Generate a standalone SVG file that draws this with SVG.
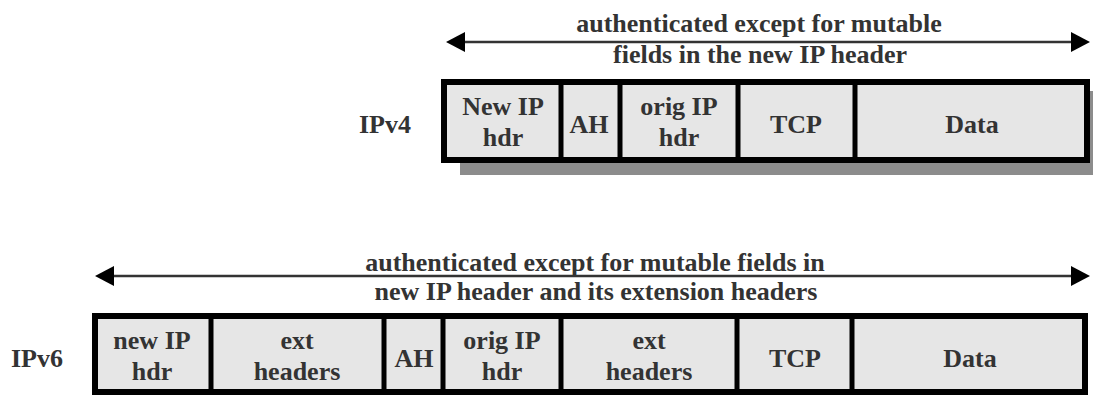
<svg xmlns="http://www.w3.org/2000/svg" width="1093" height="398" viewBox="0 0 1093 398">
<style>
text{font-family:'Liberation Serif','DejaVu Serif',serif;font-weight:700;font-size:26px;fill:#333;text-anchor:middle}
.lbl{text-anchor:end}
.cell{fill:#e6e6e6;stroke:none}
.frame{fill:none;stroke:#000;stroke-width:6}
.div{stroke:#000;stroke-width:5}
.arr{stroke:#333;stroke-width:2.5;fill:none}
.head{fill:#000}
</style>
<rect x="460" y="91" width="640" height="84" fill="#8c8c8c"/>
<g id="ipv4" font-family="Liberation Serif, DejaVu Serif, serif">
<text class="lbl" x="411" y="133">IPv4</text>
<rect class="cell" x="444" y="82" width="643" height="78"/>
<rect class="frame" x="444" y="82" width="643" height="78"/>
<line class="div" x1="561" y1="82" x2="561" y2="160"/>
<line class="div" x1="620" y1="82" x2="620" y2="160"/>
<line class="div" x1="738" y1="82" x2="738" y2="160"/>
<line class="div" x1="855" y1="82" x2="855" y2="160"/>
<text x="503" y="115">New IP</text><text x="503" y="146">hdr</text>
<text x="589" y="133">AH</text>
<text x="679" y="115">orig IP</text><text x="679" y="146">hdr</text>
<text x="796" y="133">TCP</text>
<text x="972" y="133">Data</text>
</g>
<g id="ipv6" font-family="Liberation Serif, DejaVu Serif, serif">
<text class="lbl" x="63" y="367">IPv6</text>
<rect class="cell" x="95" y="316" width="990" height="76"/>
<rect class="frame" x="95" y="316" width="990" height="76"/>
<line class="div" x1="211" y1="316" x2="211" y2="392"/>
<line class="div" x1="384" y1="316" x2="384" y2="392"/>
<line class="div" x1="443" y1="316" x2="443" y2="392"/>
<line class="div" x1="561" y1="316" x2="561" y2="392"/>
<line class="div" x1="737" y1="316" x2="737" y2="392"/>
<line class="div" x1="852" y1="316" x2="852" y2="392"/>
<text x="152" y="349">new IP</text><text x="152" y="380">hdr</text>
<text x="297" y="349">ext</text><text x="297" y="380">headers</text>
<text x="414" y="367">AH</text>
<text x="502" y="349">orig IP</text><text x="502" y="380">hdr</text>
<text x="649" y="349">ext</text><text x="649" y="380">headers</text>
<text x="795" y="367">TCP</text>
<text x="970" y="367">Data</text>
</g>
<g id="connectors">
<line class="arr" x1="460" y1="42" x2="1075" y2="42"/>
<polygon class="head" points="446,42 465,32 465,52"/>
<polygon class="head" points="1090,42 1071,32 1071,52"/>
<line class="arr" x1="108" y1="276" x2="1075" y2="276"/>
<polygon class="head" points="95,276 114,266 114,286"/>
<polygon class="head" points="1090,276 1071,266 1071,286"/>
</g>
<g id="labels" font-family="Liberation Serif, DejaVu Serif, serif">
<text x="759" y="32">authenticated except for mutable</text>
<text x="760" y="63">fields in the new IP header</text>
<text x="595" y="271">authenticated except for mutable fields in</text>
<text x="596" y="300">new IP header and its extension headers</text>
</g>
</svg>
